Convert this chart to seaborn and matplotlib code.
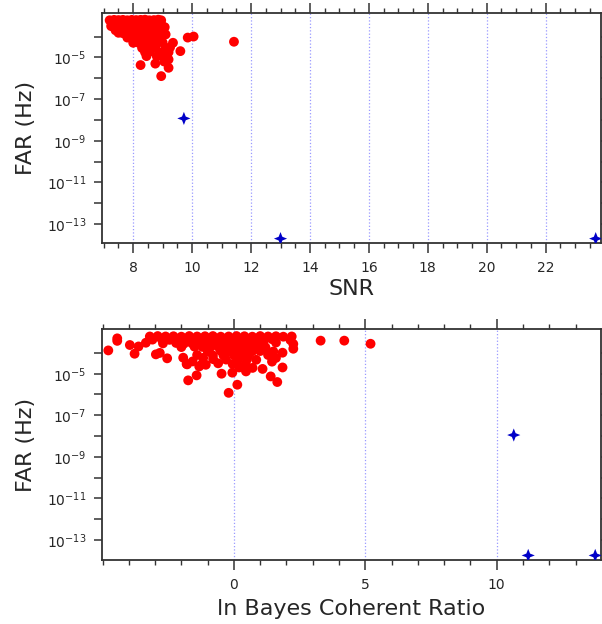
import numpy as np
import pandas as pd
import matplotlib
matplotlib.use("Agg")
import matplotlib.pyplot as plt
import matplotlib.ticker as mticker
from matplotlib.path import Path
import seaborn as sns

# ---------------- data ----------------
# Top panel: background events, SNR and log10(FAR)
bg_snr = [
    7.20, 7.35, 7.50, 7.65, 7.80, 7.95, 8.10, 8.25, 8.40, 8.55, 8.70, 8.85, 8.95, 9.07,
    7.30, 7.45, 7.60, 7.75, 7.90, 8.05, 8.20, 8.35, 8.50, 8.65, 8.80, 8.95,
    7.45, 7.60, 7.75, 7.90, 8.05, 8.20, 8.35, 8.50, 8.65, 8.80, 9.10,
    7.50, 7.65, 7.95, 8.10, 8.25, 8.40, 8.55, 8.70, 8.85, 9.05,
    7.80, 8.00, 8.15, 8.30, 8.45, 8.60, 8.75, 8.90,
    8.00, 8.20, 8.35, 8.50, 8.65, 8.80, 9.00, 9.35,
    8.30, 8.45, 8.60, 8.75, 9.10, 9.25,
    8.40, 8.55, 8.90, 9.05, 9.20, 9.60,
    8.45, 8.80, 9.00, 9.15,
    7.25, 7.40, 8.25, 8.75, 9.20, 8.95, 9.05, 9.20, 9.85, 10.05, 11.42,
    7.55, 7.70, 7.85, 8.00, 8.15, 8.30, 8.45, 8.60, 8.75, 8.40, 8.55, 8.70,
]
bg_snr_logfar = [
    -3.22, -3.20, -3.21, -3.20, -3.22, -3.20, -3.21, -3.20, -3.19, -3.22, -3.21, -3.19, -3.22, -3.55,
    -3.40, -3.42, -3.38, -3.44, -3.40, -3.42, -3.39, -3.43, -3.40, -3.42, -3.38, -3.42,
    -3.62, -3.64, -3.60, -3.66, -3.62, -3.64, -3.60, -3.65, -3.62, -3.64, -3.90,
    -3.82, -3.84, -3.83, -3.85, -3.82, -3.84, -3.83, -3.86, -3.82, -3.85,
    -4.05, -4.07, -4.08, -4.06, -4.07, -4.05, -4.08, -4.07,
    -4.30, -4.31, -4.28, -4.32, -4.30, -4.31, -4.29, -4.30,
    -4.55, -4.53, -4.56, -4.54, -4.55, -4.52,
    -4.75, -4.73, -4.76, -4.74, -4.75, -4.70,
    -4.94, -4.95, -4.93, -4.96,
    -3.50, -3.70, -5.37, -5.30, -5.50, -5.90, -5.20, -5.10, -4.05, -4.00, -4.25,
    -3.30, -3.32, -3.31, -3.30, -3.32, -3.31, -3.32, -3.30, -3.32, -3.52, -3.54, -3.52,
]

# Top panel: foreground candidates
fg_snr = [9.72, 13.0, 23.7]
fg_snr_logfar = [-7.93, -13.70, -13.70]

# Bottom panel: background events, ln Bayes coherent ratio and log10(FAR)
bg_lnb = [
    -3.20, -2.90, -2.60, -2.30, -2.00, -1.70, -1.40, -1.10, -0.80, -0.50, -0.20, 0.10, 0.40, 0.70, 1.00, 1.30, 1.60, 1.88, 2.20,
    -3.10, -2.75, -2.45, -2.15, -1.85, -1.55, -1.25, -0.95, -0.65, -0.35, -0.05, 0.25, 0.55, 0.85, 1.15, 1.45, 2.15,
    -2.70, -2.20, -1.90, -1.60, -1.30, -1.00, -0.70, -0.40, -0.10, 0.20, 0.50, 0.80, 1.10, 1.60, 2.26,
    -2.00, -1.50, -1.20, -0.90, -0.60, -0.30, 0.00, 0.30, 0.60, 0.90, 1.20, 2.26,
    -1.00, -0.50, -0.20, 0.10, 0.40, 0.70, 1.00, 1.50, 1.85,
    -1.40, -0.80, -0.40, 0.00, 0.30, 0.55, 1.30,
    -0.79, -0.30, 0.15, 0.50, 0.85, 1.60,
    -1.20, -0.60, -0.05, 0.45, 1.45,
    0.20, 0.71, 1.85,
    -4.78, -4.44, -4.44, -3.96, -3.78, -3.63, -3.35, -2.97, -2.82, -2.54, -1.93, -1.78, -1.74,
    -1.80, -1.57, -1.32, -1.07, -1.17, -1.42, -0.47, -0.20, 0.13, -0.06, 0.46, 1.09, 1.40, 1.65,
    3.30, 4.20, 5.20,
]
bg_lnb_logfar = [
    -3.21, -3.19, -3.21, -3.20, -3.22, -3.19, -3.21, -3.20, -3.19, -3.22, -3.21, -3.19, -3.20, -3.22, -3.19, -3.21, -3.20, -3.22, -3.21,
    -3.36, -3.34, -3.37, -3.35, -3.34, -3.36, -3.35, -3.37, -3.34, -3.36, -3.35, -3.34, -3.37, -3.35, -3.36, -3.34, -3.38,
    -3.54, -3.52, -3.55, -3.53, -3.52, -3.54, -3.53, -3.55, -3.52, -3.54, -3.53, -3.52, -3.55, -3.50, -3.57,
    -3.72, -3.70, -3.71, -3.73, -3.70, -3.72, -3.71, -3.70, -3.72, -3.71, -3.73, -3.80,
    -3.92, -3.90, -3.93, -3.91, -3.90, -3.92, -3.91, -3.93, -3.99,
    -4.10, -4.12, -4.11, -4.10, -4.13, -4.11, -4.10,
    -4.30, -4.32, -4.31, -4.30, -4.33, -4.24,
    -4.52, -4.50, -4.53, -4.51, -4.42,
    -4.70, -4.72, -4.70,
    -3.88, -3.30, -3.42, -3.62, -4.04, -3.69, -3.51, -4.07, -4.00, -4.26, -4.23, -4.55, -5.32,
    -4.53, -4.41, -4.65, -4.57, -4.24, -5.08, -5.00, -5.92, -5.53, -4.95, -4.89, -4.77, -5.13, -5.40,
    -3.41, -3.41, -3.56,
]

# Bottom panel: foreground candidates
fg_lnb = [10.65, 11.2, 13.75]
fg_lnb_logfar = [-7.95, -13.74, -13.74]

top_xticks = [8, 10, 12, 14, 16, 18, 20, 22]
bottom_xticks = [0, 5, 10]
y_tick_exponents = list(range(-14, -3))   # decades with a tick mark

# ---------------- styling ----------------
sns.set_theme(style="ticks")
plt.rcParams["font.family"] = ["DejaVu Sans"]
plt.rcParams["mathtext.fontset"] = "dejavusans"

RED = "#ff0000"
BLUE = "#0000c8"
GRID = "#9999ff"
SPINE = "#333333"

# four-pointed star marker
r_in = 0.4
verts = []
for k in range(8):
    ang = np.pi / 2 + k * np.pi / 4
    rad = 1.0 if k % 2 == 0 else r_in
    verts.append((rad * np.cos(ang), rad * np.sin(ang)))
verts.append(verts[0])
star4 = Path(verts, [Path.MOVETO] + [Path.LINETO] * 7 + [Path.CLOSEPOLY])

fig = plt.figure(figsize=(6.02, 6.24), dpi=100)
ax1 = fig.add_axes([102 / 602, (624 - 243) / 624, 499 / 602, 230 / 624])
ax2 = fig.add_axes([102 / 602, (624 - 560) / 624, 499 / 602, 231 / 624])


def ylabfmt(v, pos):
    e = int(round(np.log10(v)))
    if e % 2 == 0:
        return ""
    return r"$10^{%d}$" % e


def style_axes(ax, xmajor, xminor_step, xlim, ylim):
    ax.set_yscale("log")
    ax.set_xlim(*xlim)
    ax.set_ylim(*ylim)
    ax.xaxis.set_major_locator(mticker.FixedLocator(xmajor))
    ax.xaxis.set_minor_locator(mticker.MultipleLocator(xminor_step))
    ax.yaxis.set_major_locator(mticker.FixedLocator([10.0 ** e for e in y_tick_exponents]))
    ax.yaxis.set_minor_locator(mticker.NullLocator())
    ax.yaxis.set_major_formatter(mticker.FuncFormatter(ylabfmt))
    ax.tick_params(axis="x", which="major", direction="out", length=7, width=1.1,
                   color=SPINE, labelsize=10, pad=6, top=True, bottom=True)
    ax.tick_params(axis="x", which="minor", direction="out", length=3.5, width=1.0,
                   color=SPINE, top=True, bottom=True)
    ax.tick_params(axis="y", which="major", direction="out", length=6, width=1.1,
                   color=SPINE, labelsize=10, pad=5, left=True, right=True)
    for s in ax.spines.values():
        s.set_visible(True)
        s.set_color(SPINE)
        s.set_linewidth(1.3)
    ax.xaxis.grid(True, which="major", color=GRID, linestyle=":", linewidth=0.9)
    ax.yaxis.grid(False)
    ax.set_axisbelow(True)
    ax.set_facecolor("white")


# top panel
df_bg1 = pd.DataFrame({"x": bg_snr, "far": np.power(10.0, bg_snr_logfar)})
df_fg1 = pd.DataFrame({"x": fg_snr, "far": np.power(10.0, fg_snr_logfar)})
sns.scatterplot(data=df_bg1, x="x", y="far", ax=ax1, color=RED, s=50,
                edgecolor="none", linewidth=0, zorder=3)
sns.scatterplot(data=df_fg1, x="x", y="far", ax=ax1, color=BLUE, s=90,
                marker=star4, edgecolor="none", linewidth=0, zorder=4)
style_axes(ax1, top_xticks, 0.5, (6.94, 23.88), (10 ** -13.91, 10 ** -2.87))
ax1.set_xlabel("SNR", fontsize=16, labelpad=3)
ax1.set_ylabel("FAR (Hz)", fontsize=16, labelpad=8)

# bottom panel
df_bg2 = pd.DataFrame({"x": bg_lnb, "far": np.power(10.0, bg_lnb_logfar)})
df_fg2 = pd.DataFrame({"x": fg_lnb, "far": np.power(10.0, fg_lnb_logfar)})
sns.scatterplot(data=df_bg2, x="x", y="far", ax=ax2, color=RED, s=50,
                edgecolor="none", linewidth=0, zorder=3)
sns.scatterplot(data=df_fg2, x="x", y="far", ax=ax2, color=BLUE, s=90,
                marker=star4, edgecolor="none", linewidth=0, zorder=4)
style_axes(ax2, bottom_xticks, 1, (-5.02, 13.97), (10 ** -13.96, 10 ** -2.85))
ax2.set_xlabel("ln Bayes Coherent Ratio", fontsize=16, labelpad=5)
ax2.set_ylabel("FAR (Hz)", fontsize=16, labelpad=8)

fig.savefig("out.png", dpi=100)
